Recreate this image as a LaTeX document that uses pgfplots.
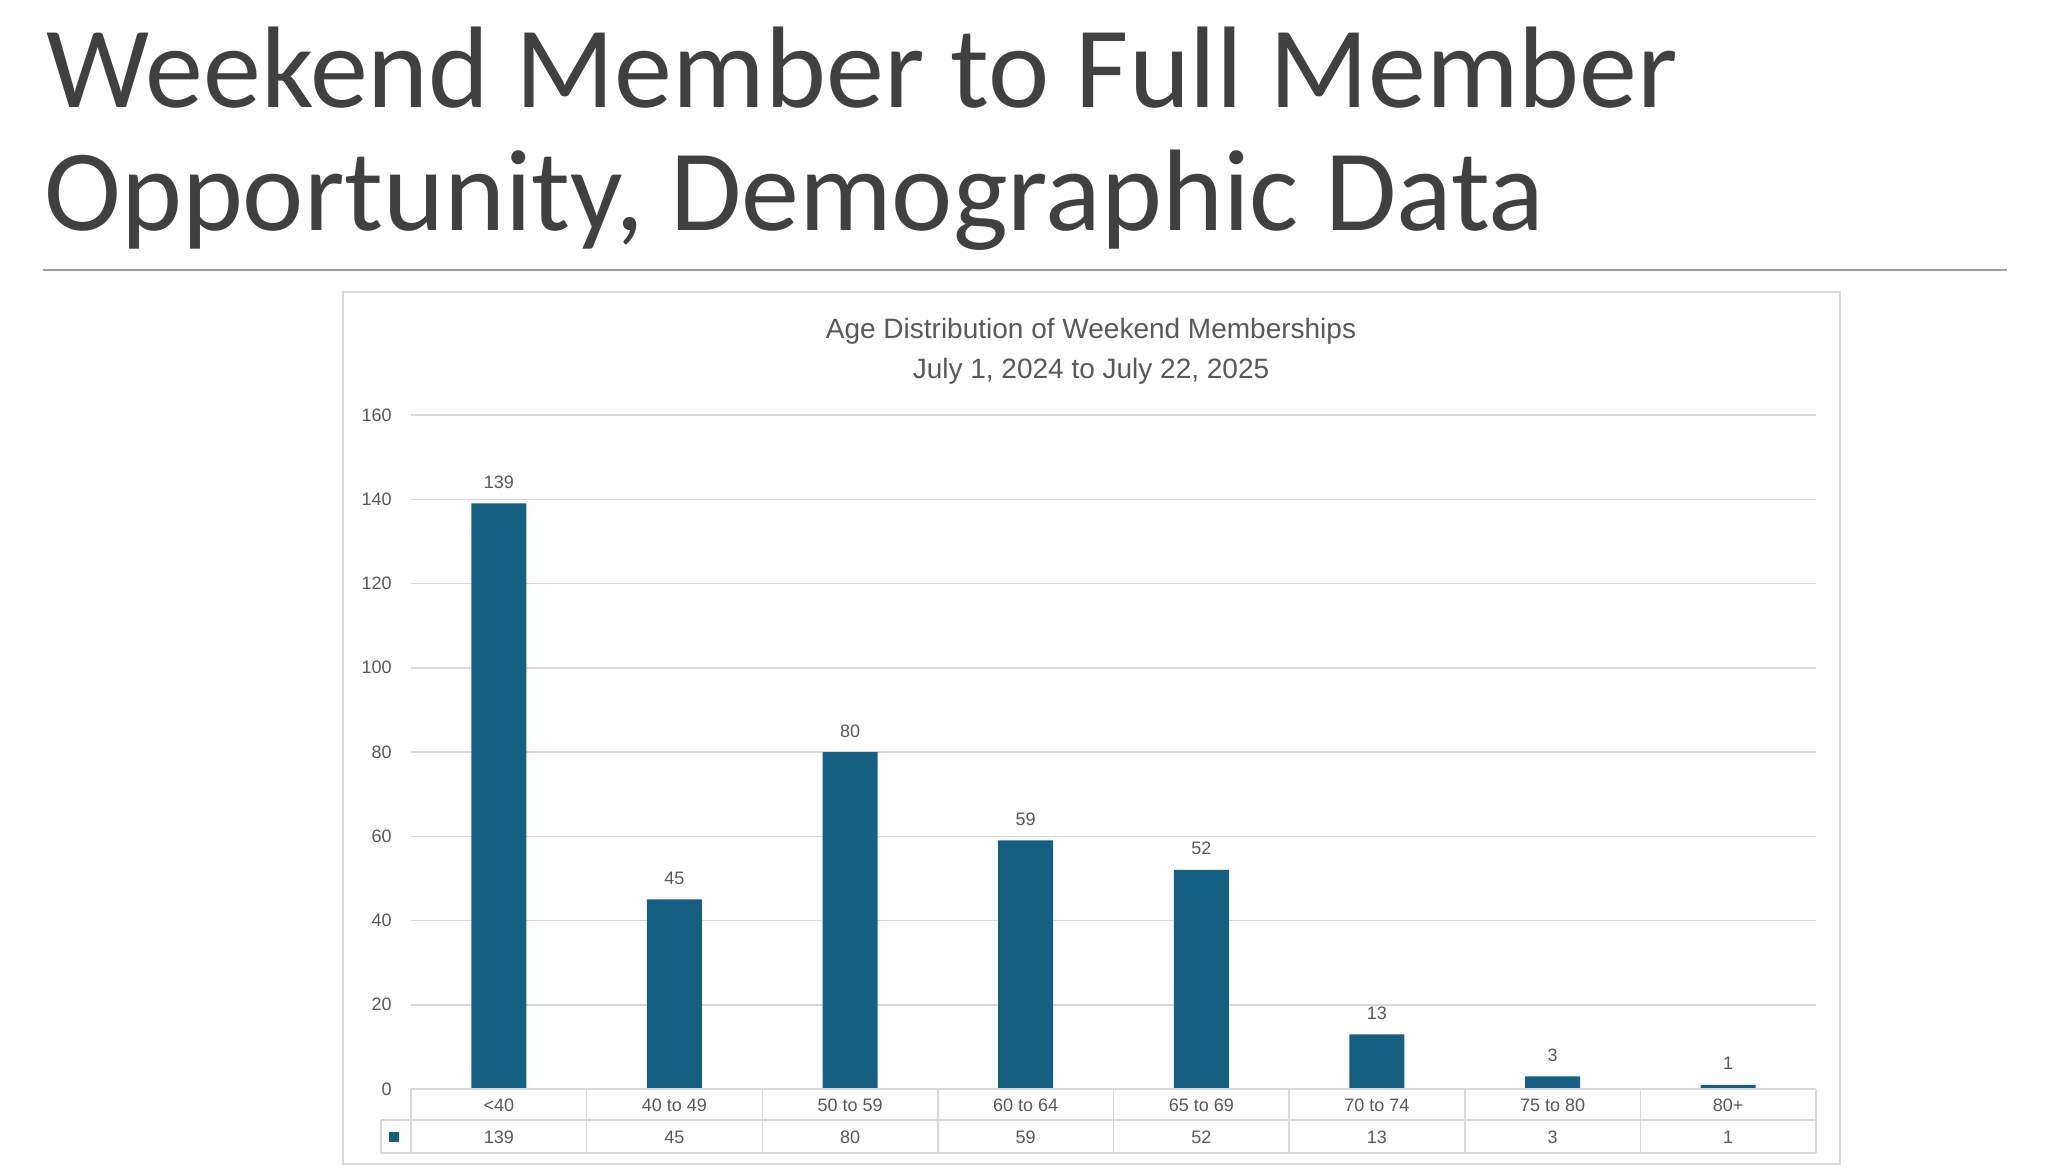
\documentclass[border=0pt]{standalone}
\usepackage{fontspec}
\setmainfont{Liberation Sans}
\newfontfamily\titlefont{Carlito}
\usepackage{pgfplots}
\pgfplotsset{compat=1.18}
\usepackage{pgfplotstable}

\definecolor{barblue}{HTML}{156082}
\definecolor{txtgray}{HTML}{595959}
\definecolor{gridgray}{HTML}{D9D9D9}
\definecolor{titlegray}{HTML}{404040}
\definecolor{rulegray}{HTML}{A0A0A0}

% weekend memberships by age group
\pgfplotstableread{
x count
0 139
1 45
2 80
3 59
4 52
5 13
6 3
7 1
}\agedata

\begin{document}
\begin{tikzpicture}
% slide frame, 1px = 0.5pt, y downwards
\begin{scope}[x=0.5pt,y=-0.5pt]
  \fill[white] (0,0) rectangle (2048,1172);
  \node[anchor=base west, inner sep=0pt, text=titlegray,
        font=\titlefont\fontsize{58}{60}\selectfont] at (46,108) {Weekend Member to Full Member};
  \node[anchor=base west, inner sep=0pt, text=titlegray,
        font=\titlefont\fontsize{58}{60}\selectfont] at (44,230) {Opportunity, Demographic Data};
  \draw[rulegray, line width=1pt] (43,270) -- (2007,270);
  \draw[gridgray, line width=1pt] (343,292) rectangle (1840,1164);
  \node[anchor=base, inner sep=0pt, text=txtgray, font=\fontsize{14}{17}\selectfont]
        at (1091,338) {Age Distribution of Weekend Memberships};
  \node[anchor=base, inner sep=0pt, text=txtgray, font=\fontsize{14}{17}\selectfont]
        at (1091,378) {July 1, 2024 to July 22, 2025};
\end{scope}

\begin{axis}[
    at={(205.5pt,-544.5pt)}, anchor=south west,
    scale only axis, width=702.5pt, height=337pt,
    xmin=-0.5, xmax=7.5, ymin=0, ymax=160,
    ytick={0,20,...,160},
    xtick={0,...,7},
    xticklabels={<40, 40 to 49, 50 to 59, 60 to 64, 65 to 69, 70 to 74, 75 to 80, 80+},
    axis line style={draw=none},
    major tick length=0pt, tick style={draw=none},
    ymajorgrids, grid style={gridgray, line width=0.75pt},
    no markers, clip=false,
    /pgf/number format/assume math mode=true,
    yticklabel style={anchor=east, inner sep=0pt, xshift=-9.5pt,
        font=\fontsize{9}{11}\selectfont, text=txtgray},
    xticklabel style={anchor=base, inner sep=0pt, yshift=-11pt,
        font=\fontsize{9}{11}\selectfont, text=txtgray},
    ]
  \addplot[ybar, bar width=27.5pt, fill=barblue, draw=none,
      nodes near coords,
      every node near coord/.append style={anchor=base, inner sep=0pt, yshift=7.5pt,
          font=\fontsize{9}{11}\selectfont, text=txtgray}]
      table[x=x, y=count] {\agedata};
  % value row of the data table
  \addplot[draw=none, forget plot, nodes near coords, point meta=explicit,
      every node near coord/.append style={anchor=base, inner sep=0pt,
          font=\fontsize{9}{11}\selectfont, text=txtgray}]
      table[x=x, y expr=-12.82, meta=count] {\agedata};
\end{axis}

% data table grid under the axis
\begin{scope}[x=0.5pt,y=-0.5pt, gridgray, line width=0.75pt]
  \draw (411,1089) -- (1816,1089);
  \draw (381,1120) -- (1816,1120);
  \draw (381,1153) -- (1816,1153);
  \draw (381,1120) -- (381,1153);
  \foreach \k in {0,...,8}
    \draw ({411+\k*175.625},1089) -- ({411+\k*175.625},1153);
  \fill[barblue] (389,1132) rectangle (399,1142);
\end{scope}
\end{tikzpicture}
\end{document}
